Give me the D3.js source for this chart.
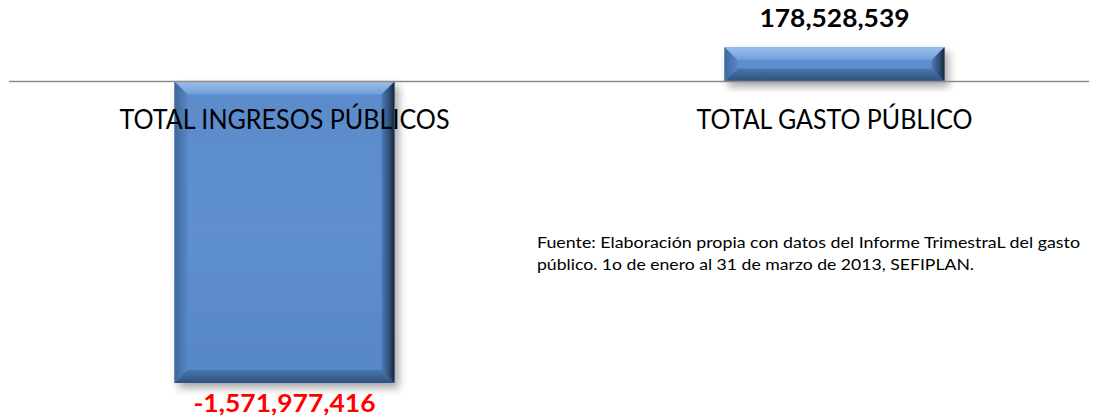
<!DOCTYPE html>
<html>
<head>
<meta charset="utf-8">
<script src="https://cdn.jsdelivr.net/npm/d3@7"></script>
<style>
  body { margin: 0; background: #fff; }
  text { font-family: Lato, "Open Sans", sans-serif; }
</style>
</head>
<body>
<div id="chart"></div>
<script>
// chart data
const categories = ["TOTAL INGRESOS PÚBLICOS", "TOTAL GASTO PÚBLICO"];
const values = [-1571977416, 178528539];
const sourceLines = [
  "Fuente: Elaboración propia con datos del Informe TrimestraL del gasto",
  "público. 1o de enero al 31 de marzo de 2013, SEFIPLAN."
];

let width = 1099;
let height = 418;

let svg = d3.select("#chart").append("svg")
  .attr("width", width)
  .attr("height", height);

let defs = svg.append("defs");

// soft shadow like excel
let shadow = defs.append("filter").attr("id", "shadow")
  .attr("x", "-20%").attr("y", "-20%").attr("width", "150%").attr("height", "150%");
shadow.append("feDropShadow")
  .attr("dx", 4).attr("dy", 5).attr("stdDeviation", 4)
  .attr("flood-color", "#000").attr("flood-opacity", 0.35);

function grad(id, x2, y2, stops) {
  let g = defs.append("linearGradient").attr("id", id)
    .attr("x1", 0).attr("y1", 0).attr("x2", x2).attr("y2", y2);
  stops.forEach(s => g.append("stop").attr("offset", s[0]).attr("stop-color", s[1]));
}
grad("gTop", 0, 1, [[0, "#9cbfeb"], [1, "#6f9dd9"]]);
grad("gBottom", 0, 1, [[0, "#4a76ad"], [1, "#2f527d"]]);
grad("gLeft", 1, 0, [[0, "#3c6699"], [1, "#5787c7"]]);
grad("gRight", 1, 0, [[0, "#4e7cb8"], [0.6, "#2e4f78"], [1, "#15253a"]]);
grad("gFace", 0, 1, [[0, "#5a8bcb"], [0.5, "#5e8fcf"], [1, "#5686c6"]]);

// scales
let xScale = d3.scaleBand()
  .domain(categories)
  .range([9.5, 1109.5])
  .paddingInner(0.6)
  .paddingOuter(0.3);

let yScale = d3.scaleLinear()
  .domain([-1800000000, 200000000])
  .range([426.7, 43.1]);

let fmt = d3.formatLocale({ decimal: ".", thousands: ",", grouping: [3], currency: ["$", ""], minus: "-" }).format(",");

let data = categories.map((c, i) => ({ cat: c, value: values[i] }));

// bars with bevel
let bars = svg.selectAll("g.bar")
  .data(data)
  .enter()
  .append("g")
  .attr("class", "bar")
  .attr("filter", "url(#shadow)");

bars.each(function (d) {
  let g = d3.select(this);
  let x = xScale(d.cat);
  let w = xScale.bandwidth();
  let y = Math.min(yScale(d.value), yScale(0));
  let h = Math.abs(yScale(d.value) - yScale(0));
  let b = Math.min(13, h / 2.6);

  g.append("rect").attr("x", x).attr("y", y).attr("width", w).attr("height", h)
    .attr("fill", "url(#gFace)");
  let poly = (pts, fill) => g.append("polygon")
    .attr("points", pts.map(p => p.join(",")).join(" "))
    .attr("fill", fill);
  poly([[x, y], [x + w, y], [x + w - b, y + b], [x + b, y + b]], "url(#gTop)");
  poly([[x, y + h], [x + b, y + h - b], [x + w - b, y + h - b], [x + w, y + h]], "url(#gBottom)");
  poly([[x, y], [x + b, y + b], [x + b, y + h - b], [x, y + h]], "url(#gLeft)");
  poly([[x + w, y], [x + w - b, y + b], [x + w - b, y + h - b], [x + w, y + h]], "url(#gRight)");
});

// zero axis line
svg.append("line")
  .attr("x1", 9).attr("x2", 1089)
  .attr("y1", yScale(0)).attr("y2", yScale(0))
  .attr("stroke", "#8c8c8c")
  .attr("stroke-width", 1.5);

// category labels
let catWidths = [330, 276];
svg.selectAll("text.cat")
  .data(data)
  .enter()
  .append("text")
  .attr("class", "cat")
  .attr("x", d => xScale(d.cat) + xScale.bandwidth() / 2)
  .attr("y", yScale(0) + 48)
  .attr("text-anchor", "middle")
  .attr("font-size", 26)
  .attr("textLength", (d, i) => catWidths[i])
  .attr("lengthAdjust", "spacingAndGlyphs")
  .attr("fill", "#000")
  .text(d => d.cat);

// value labels
let valWidths = [182, 150];
svg.selectAll("text.val")
  .data(data)
  .enter()
  .append("text")
  .attr("class", "val")
  .attr("x", d => xScale(d.cat) + xScale.bandwidth() / 2)
  .attr("y", d => d.value < 0 ? yScale(d.value) + 29 : yScale(d.value) - 20)
  .attr("text-anchor", "middle")
  .attr("font-size", 24)
  .attr("font-weight", "bold")
  .attr("textLength", (d, i) => valWidths[i])
  .attr("lengthAdjust", "spacingAndGlyphs")
  .attr("fill", d => d.value < 0 ? "#ff0000" : "#000")
  .text(d => fmt(d.value));

// source note
let srcWidths = [543, 437];
svg.selectAll("text.src")
  .data(sourceLines)
  .enter()
  .append("text")
  .attr("class", "src")
  .attr("x", 537)
  .attr("y", (d, i) => 248 + i * 22)
  .attr("font-size", 16)
  .attr("textLength", (d, i) => srcWidths[i])
  .attr("lengthAdjust", "spacingAndGlyphs")
  .attr("fill", "#000")
  .text(d => d);
</script>
</body>
</html>
